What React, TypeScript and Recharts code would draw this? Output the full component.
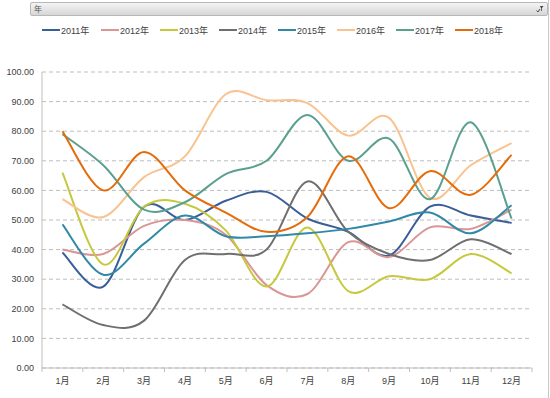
import React from 'react';
import { LineChart, Line, XAxis, YAxis, CartesianGrid } from 'recharts';

const months = ['1月', '2月', '3月', '4月', '5月', '6月', '7月', '8月', '9月', '10月', '11月', '12月'];
const yTicks = [0, 10, 20, 30, 40, 50, 60, 70, 80, 90, 100];

const y2011 = [39, 27.5, 54.5, 50, 56.5, 59.5, 50.5, 46, 38, 54.5, 51.5, 49];
const y2012 = [40, 38.5, 48, 50, 45, 28, 25, 42.5, 37.5, 47.5, 47, 53.5];
const y2013 = [66, 35, 54.5, 55.5, 46.5, 27.5, 47.5, 26, 31, 30, 38.5, 32];
const y2014 = [21.5, 14.5, 16, 36.5, 38.5, 40, 63, 46, 38.5, 36.5, 43.5, 38.5];
const y2015 = [48.5, 31.5, 42, 51.5, 44.5, 44.5, 45.5, 47, 49.5, 52.5, 45.5, 55];
const y2016 = [57, 51, 64.5, 71.5, 92.5, 90.5, 89.5, 78.5, 84.5, 57.5, 68.5, 76];
const y2017 = [79, 68.5, 53.5, 56, 65.5, 70, 85.5, 70, 77.5, 57, 83, 50.5];
const y2018 = [80, 60, 73, 60, 52.5, 46, 51, 71.5, 54, 66.5, 58.5, 72];

const series = [
  { key: 'y2011', name: '2011年', color: '#3A5E97', values: y2011 },
  { key: 'y2012', name: '2012年', color: '#D99694', values: y2012 },
  { key: 'y2013', name: '2013年', color: '#C6C83E', values: y2013 },
  { key: 'y2014', name: '2014年', color: '#6F6F6F', values: y2014 },
  { key: 'y2015', name: '2015年', color: '#3189A8', values: y2015 },
  { key: 'y2016', name: '2016年', color: '#F9C390', values: y2016 },
  { key: 'y2017', name: '2017年', color: '#5B9F8F', values: y2017 },
  { key: 'y2018', name: '2018年', color: '#E46C0A', values: y2018 },
];

const data = months.map((m, i) => {
  const row: any = { month: m };
  series.forEach(s => { row[s.key] = s.values[i]; });
  return row;
});

// Excel-like smoothing (catmull-rom via bezier)
const smoothCurve: any = (context: any) => {
  let pts: number[][] = [];
  return {
    areaStart() {},
    areaEnd() {},
    lineStart() { pts = []; },
    point(x: number, y: number) { pts.push([+x, +y]); },
    lineEnd() {
      const n = pts.length;
      if (!n) return;
      context.moveTo(pts[0][0], pts[0][1]);
      for (let i = 0; i < n - 1; i++) {
        const p0 = pts[Math.max(i - 1, 0)];
        const p1 = pts[i];
        const p2 = pts[i + 1];
        const p3 = pts[Math.min(i + 2, n - 1)];
        context.bezierCurveTo(
          p1[0] + (p2[0] - p0[0]) / 6, p1[1] + (p2[1] - p0[1]) / 6,
          p2[0] - (p3[0] - p1[0]) / 6, p2[1] - (p3[1] - p1[1]) / 6,
          p2[0], p2[1]
        );
      }
    },
  };
};

const font = '"Liberation Sans", "Noto Sans CJK SC", sans-serif';

const MonthTick = (props: any) => {
  const { x, y, payload, index, width, visibleTicksCount } = props;
  const band = width / visibleTicksCount;
  const axisY = y - 8;
  return (
    <g>
      <line x1={x - band / 2} x2={x - band / 2} y1={axisY} y2={axisY + 4} stroke="#BFBFBF" />
      {index === visibleTicksCount - 1 && (
        <line x1={x + band / 2} x2={x + band / 2} y1={axisY} y2={axisY + 4} stroke="#BFBFBF" />
      )}
      <text x={x} y={y + 8} textAnchor="middle" fontSize={9} fill="#404040" fontFamily={font}>
        {payload.value}
      </text>
    </g>
  );
};

const App: React.FC = () => {
  return (
    <div style={{ position: 'fixed', left: 0, top: 0, width: 550, height: 398, background: '#fff', fontFamily: font }}>
      <div style={{ position: 'absolute', right: 1, top: 0, width: 1, height: 398, background: '#C8C8C8' }} />
      <div
        style={{
          position: 'absolute', left: 30, top: 2, width: 516, height: 12,
          background: 'linear-gradient(#F4F4F4, #D6D6D6)', border: '1px solid #B8B8B8', borderRadius: 2,
        }}
      >
        <span style={{ position: 'absolute', left: 3, top: 0, fontSize: 8, color: '#555', lineHeight: '12px', fontFamily: '"Noto Sans CJK SC"' }}>年</span>
        <svg style={{ position: 'absolute', right: 2, top: 1 }} width={10} height={10}>
          <path d="M5 2 L8.5 2 L6.8 4.2 L6.8 7 L6 7 L6 4.2 Z" fill="#444" />
          <path d="M1.5 6.5 L3 8 L5 5" stroke="#444" strokeWidth={1} fill="none" />
        </svg>
      </div>
      <div style={{ position: 'absolute', left: 42, top: 24, display: 'flex', gap: 0 }}>
        {series.map(s => (
          <div key={s.key} style={{ display: 'flex', alignItems: 'center', width: 59, height: 12 }}>
            <div style={{ width: 18, height: 2, background: s.color, marginRight: 1 }} />
            <span style={{ fontSize: 9, color: '#404040', fontFamily: font }}>{s.name}</span>
          </div>
        ))}
      </div>
      <div style={{ position: 'absolute', left: 0, top: 0 }}>
        <LineChart width={550} height={398} data={data} margin={{ top: 72, right: 18, bottom: 8, left: 0 }}>
          <CartesianGrid vertical={false} stroke="#BDBDBD" strokeDasharray="4 3" />
          <XAxis
            dataKey="month"
            scale="band"
            height={22}
            stroke="#BFBFBF"
            tickLine={false}
            tickSize={0}
            tickMargin={8}
            interval={0}
            tick={<MonthTick />}
          />
          <YAxis
            width={42}
            domain={[0, 100]}
            ticks={yTicks}
            interval={0}
            stroke="#BFBFBF"
            tickLine={false}
            tick={{ fontSize: 9, fill: '#404040', fontFamily: font }}
            tickFormatter={(v: number) => v.toFixed(2)}
          />
          {series.map(s => (
            <Line
              key={s.key}
              dataKey={s.key}
              name={s.name}
              type={smoothCurve}
              stroke={s.color}
              strokeWidth={2}
              dot={false}
              isAnimationActive={false}
            />
          ))}
        </LineChart>
      </div>
    </div>
  );
};

export default App;
